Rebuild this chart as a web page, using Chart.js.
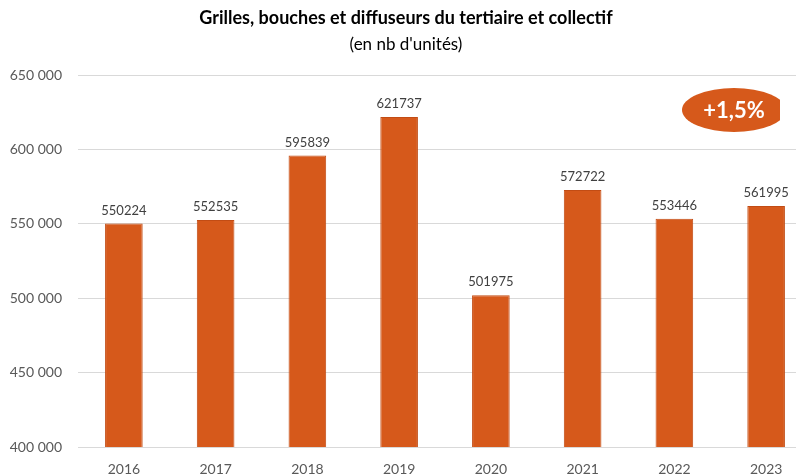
<!DOCTYPE html>
<html>
<head>
<meta charset="utf-8">
<script src="https://cdn.jsdelivr.net/npm/chart.js@4/dist/chart.umd.min.js"></script>
<style>
  html, body { margin: 0; padding: 0; background: #fff; overflow: hidden; }
  #wrap { width: 812px; height: 475px; }
</style>
</head>
<body>
<div id="wrap"><canvas id="chart" width="812" height="475"></canvas></div>
<script>
// Chart data
const years = ['2016', '2017', '2018', '2019', '2020', '2021', '2022', '2023'];
const units = [550224, 552535, 595839, 621737, 501975, 572722, 553446, 561995];
const yTicks = [400000, 450000, 500000, 550000, 600000, 650000];
const badgeText = '+1,5%';

const FONT = 'Lato, "Open Sans", sans-serif';

function formatThousands(v) {
  return String(v).replace(/\B(?=(\d{3})+(?!\d))/g, ' ');
}

// Value labels above each bar
const valueLabels = {
  id: 'valueLabels',
  afterDatasetsDraw(chart) {
    const ctx = chart.ctx;
    const meta = chart.getDatasetMeta(0);
    ctx.save();
    ctx.font = '13px ' + FONT;
    ctx.fillStyle = '#404040';
    ctx.textAlign = 'center';
    ctx.textBaseline = 'middle';
    meta.data.forEach((bar, i) => {
      ctx.fillText(String(units[i]), bar.x, bar.y - 13);
    });
    ctx.restore();
  }
};

// Orange badge with the growth figure
const growthBadge = {
  id: 'growthBadge',
  afterDraw(chart) {
    const ctx = chart.ctx;
    const area = chart.chartArea;
    const cx = area.left + 656;
    const cy = area.top + 35;
    ctx.save();
    ctx.beginPath();
    ctx.rect(0, 0, area.left + 702, chart.height);
    ctx.clip();
    ctx.beginPath();
    ctx.ellipse(cx, cy, 52, 22, 0, 0, Math.PI * 2);
    ctx.fillStyle = '#D6591B';
    ctx.fill();
    ctx.restore();
    ctx.save();
    ctx.font = 'bold 22px ' + FONT;
    ctx.fillStyle = '#ffffff';
    ctx.textAlign = 'center';
    ctx.textBaseline = 'middle';
    ctx.fillText(badgeText, cx, cy + 1);
    ctx.restore();
  }
};

new Chart(document.getElementById('chart'), {
  type: 'bar',
  data: {
    labels: years,
    datasets: [{
      data: units,
      backgroundColor: '#D6591B',
      borderColor: '#C24C14',
      borderWidth: 1,
      categoryPercentage: 1,
      barPercentage: 0.41
    }]
  },
  options: {
    responsive: false,
    animation: false,
    layout: { padding: 0 },
    plugins: {
      legend: { display: false },
      tooltip: { enabled: false },
      title: {
        display: true,
        text: 'Grilles, bouches et diffuseurs du tertiaire et collectif',
        color: '#000000',
        font: { family: FONT, size: 18, weight: 'bold', lineHeight: 1.2 },
        padding: { top: 7, bottom: 6 }
      },
      subtitle: {
        display: true,
        text: "(en nb d'unités)",
        color: '#000000',
        font: { family: FONT, size: 17, lineHeight: 1.2 },
        padding: { top: 0, bottom: 20 }
      }
    },
    scales: {
      x: {
        grid: { display: false },
        border: { display: false },
        ticks: { color: '#595959', font: { family: FONT, size: 14 }, padding: 6 },
        afterFit(axis) { axis.height = 28; }
      },
      y: {
        min: yTicks[0],
        max: yTicks[yTicks.length - 1],
        afterBuildTicks(axis) { axis.ticks = yTicks.map(v => ({ value: v })); },
        grid: { color: '#D9D9D9', drawTicks: false },
        border: { display: false },
        ticks: {
          color: '#595959',
          font: { family: FONT, size: 14 },
          padding: 16,
          callback: v => formatThousands(v)
        },
        afterFit(axis) { axis.width = 78; }
      }
    }
  },
  plugins: [valueLabels, growthBadge]
});
</script>
</body>
</html>
